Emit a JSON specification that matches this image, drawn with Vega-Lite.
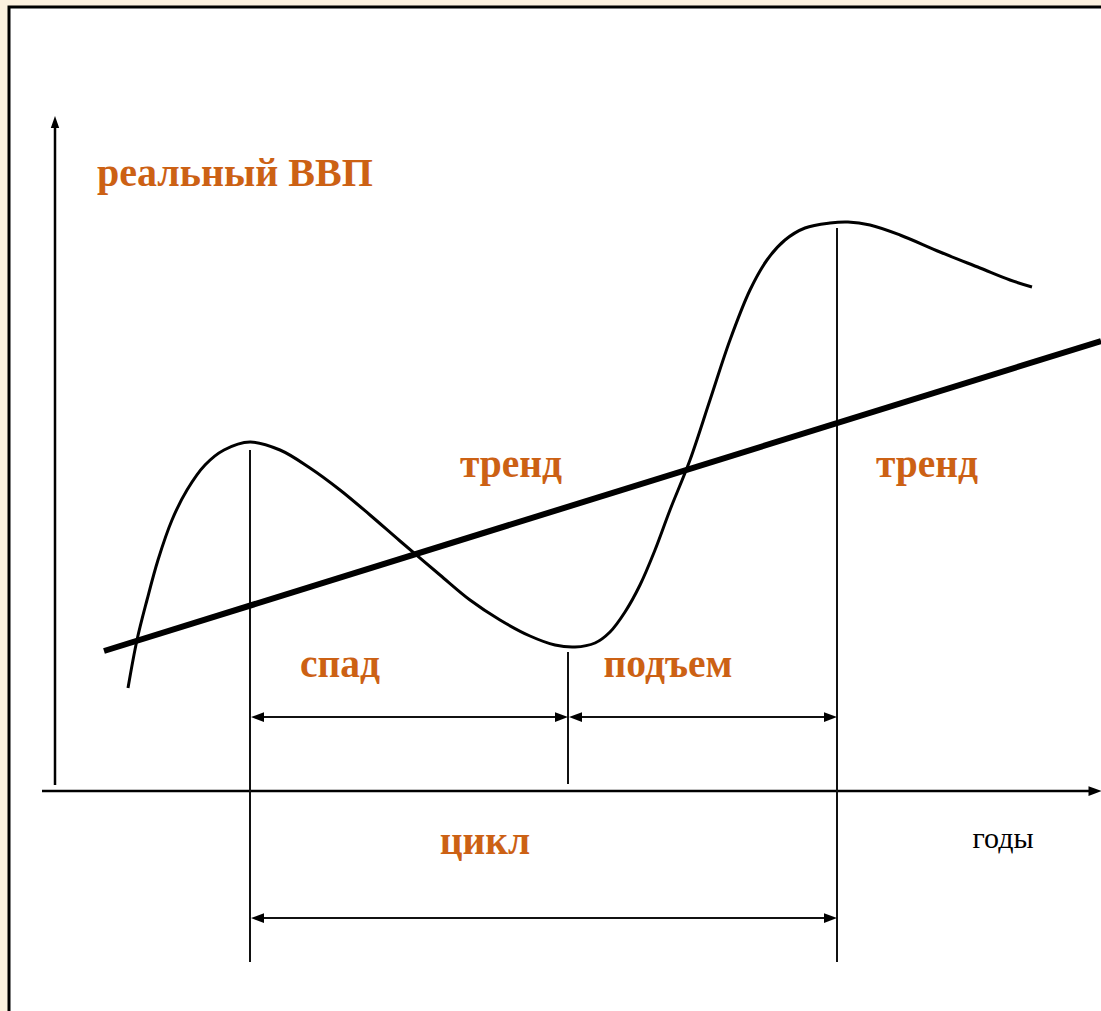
{
  "$schema": "https://vega.github.io/schema/vega-lite/v6.json",
  "width": 1101,
  "height": 1011,
  "autosize": {"type": "fit", "contains": "padding"},
  "padding": 0,
  "background": "#FCF1DF",
  "config": {"view": {"stroke": null}},
  "datasets": {
    "box": [{"x": 9, "y": 7, "x2": 1130, "y2": 1040}],
    "axes": [
      {"id": "ya", "x": 55, "y": 126},
      {"id": "ya", "x": 55, "y": 785},
      {"id": "xa", "x": 42, "y": 791},
      {"id": "xa", "x": 1090, "y": 791}
    ],
    "trend": [
      {"id": "t", "x": 104, "y": 651},
      {"id": "t", "x": 1101, "y": 341}
    ],
    "cycle": [
      {"x": 128, "y": 688},
      {"x": 137, "y": 640},
      {"x": 147, "y": 600},
      {"x": 158, "y": 560},
      {"x": 172, "y": 520},
      {"x": 187, "y": 490},
      {"x": 205, "y": 465},
      {"x": 224, "y": 450},
      {"x": 250, "y": 442},
      {"x": 280, "y": 450},
      {"x": 310, "y": 468},
      {"x": 340, "y": 490},
      {"x": 370, "y": 515},
      {"x": 400, "y": 541},
      {"x": 440, "y": 575},
      {"x": 470, "y": 600},
      {"x": 500, "y": 620},
      {"x": 530, "y": 636},
      {"x": 555, "y": 645},
      {"x": 575, "y": 647},
      {"x": 595, "y": 643},
      {"x": 610, "y": 632},
      {"x": 625, "y": 612},
      {"x": 640, "y": 585},
      {"x": 655, "y": 550},
      {"x": 670, "y": 510},
      {"x": 690, "y": 460},
      {"x": 710, "y": 400},
      {"x": 730, "y": 340},
      {"x": 750, "y": 290},
      {"x": 767, "y": 260},
      {"x": 785, "y": 240},
      {"x": 805, "y": 228},
      {"x": 830, "y": 223},
      {"x": 848, "y": 222},
      {"x": 870, "y": 225},
      {"x": 900, "y": 235},
      {"x": 940, "y": 252},
      {"x": 980, "y": 268},
      {"x": 1010, "y": 280},
      {"x": 1032, "y": 287}
    ],
    "guides": [
      {"id": "v1", "x": 250, "y": 450},
      {"id": "v1", "x": 250, "y": 962},
      {"id": "v2", "x": 568, "y": 652},
      {"id": "v2", "x": 568, "y": 784},
      {"id": "v3", "x": 837, "y": 228},
      {"id": "v3", "x": 837, "y": 962},
      {"id": "a1", "x": 258, "y": 717},
      {"id": "a1", "x": 560, "y": 717},
      {"id": "a2", "x": 576, "y": 717},
      {"id": "a2", "x": 830, "y": 717},
      {"id": "a3", "x": 258, "y": 918},
      {"id": "a3", "x": 830, "y": 918}
    ],
    "heads": [
      {"dir": "left", "x": 257.5, "y": 717},
      {"dir": "right", "x": 561.5, "y": 717},
      {"dir": "left", "x": 575.5, "y": 717},
      {"dir": "right", "x": 830.5, "y": 717},
      {"dir": "left", "x": 257.5, "y": 918},
      {"dir": "right", "x": 830.5, "y": 918},
      {"dir": "up", "x": 55, "y": 122},
      {"dir": "right", "x": 1095, "y": 791}
    ],
    "labels": [
      {"text": "тренд", "x": 511, "y": 477},
      {"text": "тренд", "x": 927, "y": 477},
      {"text": "спад", "x": 340, "y": 677},
      {"text": "подъем", "x": 668, "y": 677},
      {"text": "цикл", "x": 485, "y": 854}
    ]
  },
  "layer": [
    {
      "data": {"name": "box"},
      "mark": {"type": "rect", "fill": "white", "stroke": "black", "strokeWidth": 3, "clip": true},
      "encoding": {
        "x": {"field": "x", "type": "quantitative", "scale": {"domain": [0, 1101], "nice": false, "zero": false}, "axis": null},
        "x2": {"field": "x2"},
        "y": {"field": "y", "type": "quantitative", "scale": {"domain": [0, 1011], "nice": false, "zero": false, "reverse": true}, "axis": null},
        "y2": {"field": "y2"}
      }
    },
    {
      "data": {"name": "axes"},
      "mark": {"type": "line", "stroke": "black", "strokeWidth": 2.5, "clip": true},
      "encoding": {
        "x": {"field": "x", "type": "quantitative"},
        "y": {"field": "y", "type": "quantitative"},
        "detail": {"field": "id"}
      }
    },
    {
      "data": {"name": "guides"},
      "mark": {"type": "line", "stroke": "#111111", "strokeWidth": 2, "clip": true},
      "encoding": {
        "x": {"field": "x", "type": "quantitative"},
        "y": {"field": "y", "type": "quantitative"},
        "detail": {"field": "id"}
      }
    },
    {
      "data": {"name": "trend"},
      "mark": {"type": "line", "stroke": "black", "strokeWidth": 6, "clip": true},
      "encoding": {
        "x": {"field": "x", "type": "quantitative"},
        "y": {"field": "y", "type": "quantitative"},
        "detail": {"field": "id"}
      }
    },
    {
      "data": {"name": "cycle"},
      "mark": {"type": "line", "stroke": "black", "strokeWidth": 3, "interpolate": "catmull-rom", "clip": true},
      "encoding": {
        "x": {"field": "x", "type": "quantitative"},
        "y": {"field": "y", "type": "quantitative"}
      }
    },
    {
      "data": {"name": "heads"},
      "transform": [{"filter": "datum.dir === 'left'"}],
      "mark": {"type": "point", "shape": "M1,-0.75L-1,0L1,0.75Z", "size": 169, "filled": true, "fill": "black", "opacity": 1, "strokeWidth": 0, "clip": true},
      "encoding": {
        "x": {"field": "x", "type": "quantitative"},
        "y": {"field": "y", "type": "quantitative"}
      }
    },
    {
      "data": {"name": "heads"},
      "transform": [{"filter": "datum.dir === 'right'"}],
      "mark": {"type": "point", "shape": "M-1,-0.75L1,0L-1,0.75Z", "size": 169, "filled": true, "fill": "black", "opacity": 1, "strokeWidth": 0, "clip": true},
      "encoding": {
        "x": {"field": "x", "type": "quantitative"},
        "y": {"field": "y", "type": "quantitative"}
      }
    },
    {
      "data": {"name": "heads"},
      "transform": [{"filter": "datum.dir === 'up'"}],
      "mark": {"type": "point", "shape": "M0,-1L0.7,1L-0.7,1Z", "size": 144, "filled": true, "fill": "black", "opacity": 1, "strokeWidth": 0, "clip": true},
      "encoding": {
        "x": {"field": "x", "type": "quantitative"},
        "y": {"field": "y", "type": "quantitative"}
      }
    },
    {
      "data": {"name": "labels"},
      "mark": {"type": "text", "font": "Liberation Serif", "fontWeight": "bold", "fontSize": 39.5, "fill": "#CC6114", "align": "center", "baseline": "alphabetic"},
      "encoding": {
        "x": {"field": "x", "type": "quantitative"},
        "y": {"field": "y", "type": "quantitative"},
        "text": {"field": "text"}
      }
    },
    {
      "data": {"values": [{"text": "реальный ВВП", "x": 97, "y": 186}]},
      "mark": {"type": "text", "font": "Liberation Serif", "fontWeight": "bold", "fontSize": 40, "fill": "#CC6114", "align": "left", "baseline": "alphabetic"},
      "encoding": {
        "x": {"field": "x", "type": "quantitative"},
        "y": {"field": "y", "type": "quantitative"},
        "text": {"field": "text"}
      }
    },
    {
      "data": {"values": [{"text": "годы", "x": 1003, "y": 848}]},
      "mark": {"type": "text", "font": "Liberation Serif", "fontSize": 30, "fill": "black", "align": "center", "baseline": "alphabetic"},
      "encoding": {
        "x": {"field": "x", "type": "quantitative"},
        "y": {"field": "y", "type": "quantitative"},
        "text": {"field": "text"}
      }
    }
  ]
}
